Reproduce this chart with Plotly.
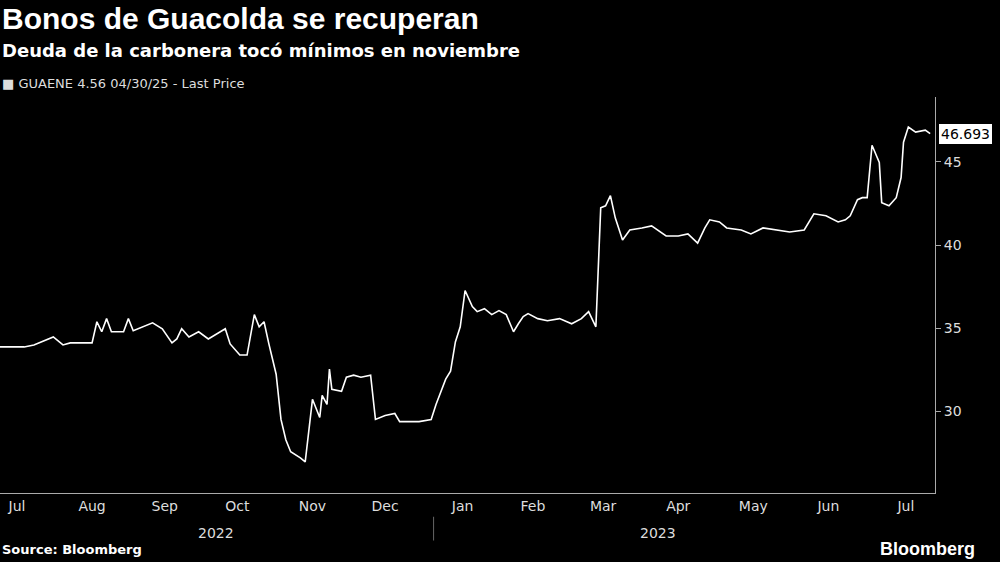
import plotly.graph_objects as go

dates = [
    '2022-07-06', '2022-07-16', '2022-07-20', '2022-07-24', '2022-07-28', '2022-08-01', '2022-08-04',
    '2022-08-10', '2022-08-13', '2022-08-15', '2022-08-17', '2022-08-19', '2022-08-21', '2022-08-26',
    '2022-08-28', '2022-08-30', '2022-09-03', '2022-09-07', '2022-09-11', '2022-09-15', '2022-09-17',
    '2022-09-19', '2022-09-22', '2022-09-26', '2022-09-30', '2022-10-04', '2022-10-07', '2022-10-09',
    '2022-10-13', '2022-10-16', '2022-10-19', '2022-10-21', '2022-10-23', '2022-10-25', '2022-10-28',
    '2022-10-30', '2022-11-01', '2022-11-03', '2022-11-07', '2022-11-09', '2022-11-12', '2022-11-15',
    '2022-11-16', '2022-11-18', '2022-11-19', '2022-11-20', '2022-11-24', '2022-11-26', '2022-11-29',
    '2022-12-02', '2022-12-06', '2022-12-08', '2022-12-12', '2022-12-16', '2022-12-18', '2022-12-22',
    '2022-12-26', '2022-12-31', '2023-01-02', '2023-01-06', '2023-01-08', '2023-01-10', '2023-01-12',
    '2023-01-14', '2023-01-17', '2023-01-19', '2023-01-22', '2023-01-25', '2023-01-28', '2023-01-31',
    '2023-02-03', '2023-02-05', '2023-02-07', '2023-02-09', '2023-02-13', '2023-02-17', '2023-02-22',
    '2023-02-27', '2023-03-03', '2023-03-06', '2023-03-09', '2023-03-11', '2023-03-13', '2023-03-15',
    '2023-03-17', '2023-03-20', '2023-03-23', '2023-03-28', '2023-04-01', '2023-04-07', '2023-04-12',
    '2023-04-16', '2023-04-20', '2023-04-23', '2023-04-25', '2023-04-29', '2023-05-02', '2023-05-08',
    '2023-05-12', '2023-05-17', '2023-05-22', '2023-05-28', '2023-06-03', '2023-06-07', '2023-06-12',
    '2023-06-17', '2023-06-20', '2023-06-22', '2023-06-25', '2023-06-27', '2023-06-29', '2023-07-01',
    '2023-07-04', '2023-07-05', '2023-07-08', '2023-07-11', '2023-07-13', '2023-07-14', '2023-07-16',
    '2023-07-19', '2023-07-23',
]
prices = [
    33.88, 33.88, 34.0, 34.24, 34.48, 34.0, 34.12,
    34.12, 34.12, 35.39, 34.79, 35.58, 34.79, 34.79,
    35.58, 34.85, 35.09, 35.33, 34.97, 34.12, 34.36,
    34.97, 34.48, 34.79, 34.36, 34.73, 34.97, 34.06,
    33.39, 33.39, 35.82, 35.09, 35.39, 34.06, 32.24,
    29.52, 28.30, 27.58, 27.21, 26.97, 30.73, 29.64,
    30.97, 30.42, 32.55, 31.33, 31.21, 32.06, 32.18,
    32.06, 32.18, 29.52, 29.76, 29.88, 29.39, 29.39,
    29.39, 29.52, 30.42, 31.94, 32.42, 34.18, 35.09,
    37.27, 36.30, 36.0, 36.18, 35.82, 36.06, 35.82,
    34.79, 35.27, 35.70, 35.88, 35.58, 35.45, 35.58,
    35.27, 35.58, 36.0, 35.09, 42.24, 42.36, 42.97,
    41.64, 40.30, 40.91, 41.03, 41.15, 40.55, 40.55,
    40.67, 40.12, 41.03, 41.52, 41.39, 41.03, 40.91,
    40.67, 41.03, 40.91, 40.79, 40.91, 41.88, 41.76,
    41.39, 41.52, 41.76, 42.73, 42.85, 42.85, 46.0,
    44.97, 42.55, 42.36, 42.85, 44.06, 46.18, 47.09,
    46.79, 46.91,
]
last_price = 46.693
month_mids = ['2022-07-13', '2022-08-13', '2022-09-12', '2022-10-12', '2022-11-12', '2022-12-12',
              '2023-01-13', '2023-02-11', '2023-03-12', '2023-04-12', '2023-05-13', '2023-06-13',
              '2023-07-15']
month_labels = ['Jul', 'Aug', 'Sep', 'Oct', 'Nov', 'Dec', 'Jan', 'Feb', 'Mar', 'Apr', 'May', 'Jun', 'Jul']
y_ticks = [30, 35, 40, 45]

FONT = 'DejaVu Sans, sans-serif'
TITLE_FONT = 'Liberation Sans, Arial, sans-serif'

fig = go.Figure()
fig.add_trace(go.Scatter(
    x=dates + ['2023-07-25'],
    y=prices + [last_price],
    mode='lines',
    line=dict(color='white', width=1.6),
    hoverinfo='skip',
))
fig.update_xaxes(
    range=['2022-07-06', '2023-07-27'],
    tickvals=month_mids,
    ticktext=month_labels,
    ticks='',
    showgrid=False,
    showline=True,
    linecolor='#aaaaaa',
    tickfont=dict(color='#dddddd', size=14, family=FONT),
    zeroline=False,
)
fig.update_yaxes(
    range=[25.1, 48.9],
    side='right',
    tickvals=y_ticks,
    ticks='outside',
    ticklen=5,
    tickcolor='#aaaaaa',
    showgrid=False,
    showline=True,
    linecolor='#aaaaaa',
    tickfont=dict(color='#dddddd', size=14, family=FONT),
    zeroline=False,
)
fig.add_annotation(x=0.21, y=-0.075, xref='paper', yref='paper', text='2022', showarrow=False,
                   font=dict(color='#dddddd', size=14, family=FONT), yanchor='top')
fig.add_annotation(x=0.725, y=-0.075, xref='paper', yref='paper', text='2023', showarrow=False,
                   font=dict(color='#dddddd', size=14, family=FONT), yanchor='top')
fig.add_shape(type='line', x0='2023-01-01', x1='2023-01-01', y0=-0.06, y1=-0.12,
              xref='x', yref='paper', line=dict(color='#666666', width=1))
fig.add_annotation(x=1, y=last_price, xref='paper', yref='y', text=f'{last_price:.3f}', showarrow=False,
                   xanchor='left', xshift=4, bgcolor='white', bordercolor='white',
                   font=dict(color='black', size=14, family=FONT), borderpad=1)
fig.add_annotation(x=0, y=1, xref='paper', yref='paper', text='<b>Bonos de Guacolda se recuperan</b>',
                   showarrow=False, xanchor='left', yanchor='top', yshift=97,
                   font=dict(color='white', size=30, family=TITLE_FONT))
fig.add_annotation(x=0, y=1, xref='paper', yref='paper', text='<b>Deuda de la carbonera tocó mínimos en noviembre</b>',
                   showarrow=False, xanchor='left', yanchor='top', yshift=59,
                   font=dict(color='white', size=18, family=FONT))
fig.add_annotation(x=0, y=1, xref='paper', yref='paper', text='■ GUAENE 4.56 04/30/25 - Last Price',
                   showarrow=False, xanchor='left', yanchor='top', yshift=23,
                   font=dict(color='#dddddd', size=13, family=FONT))
fig.add_annotation(x=0, y=0, xref='paper', yref='paper', text='<b>Source: Bloomberg</b>',
                   showarrow=False, xanchor='left', yanchor='bottom', yshift=-66,
                   font=dict(color='white', size=13, family=FONT))
fig.add_annotation(x=1, y=0, xref='paper', yref='paper', text='<b>Bloomberg</b>',
                   showarrow=False, xanchor='right', yanchor='bottom', yshift=-68, xshift=42,
                   font=dict(color='white', size=18, family=TITLE_FONT))
fig.update_layout(
    width=1000,
    height=562,
    paper_bgcolor='black',
    plot_bgcolor='black',
    margin=dict(l=0, r=65, t=97, b=69),
    showlegend=False,
)
fig.write_html('out.html', config={'displayModeBar': False},
               post_script="document.body.style.margin='0';")
